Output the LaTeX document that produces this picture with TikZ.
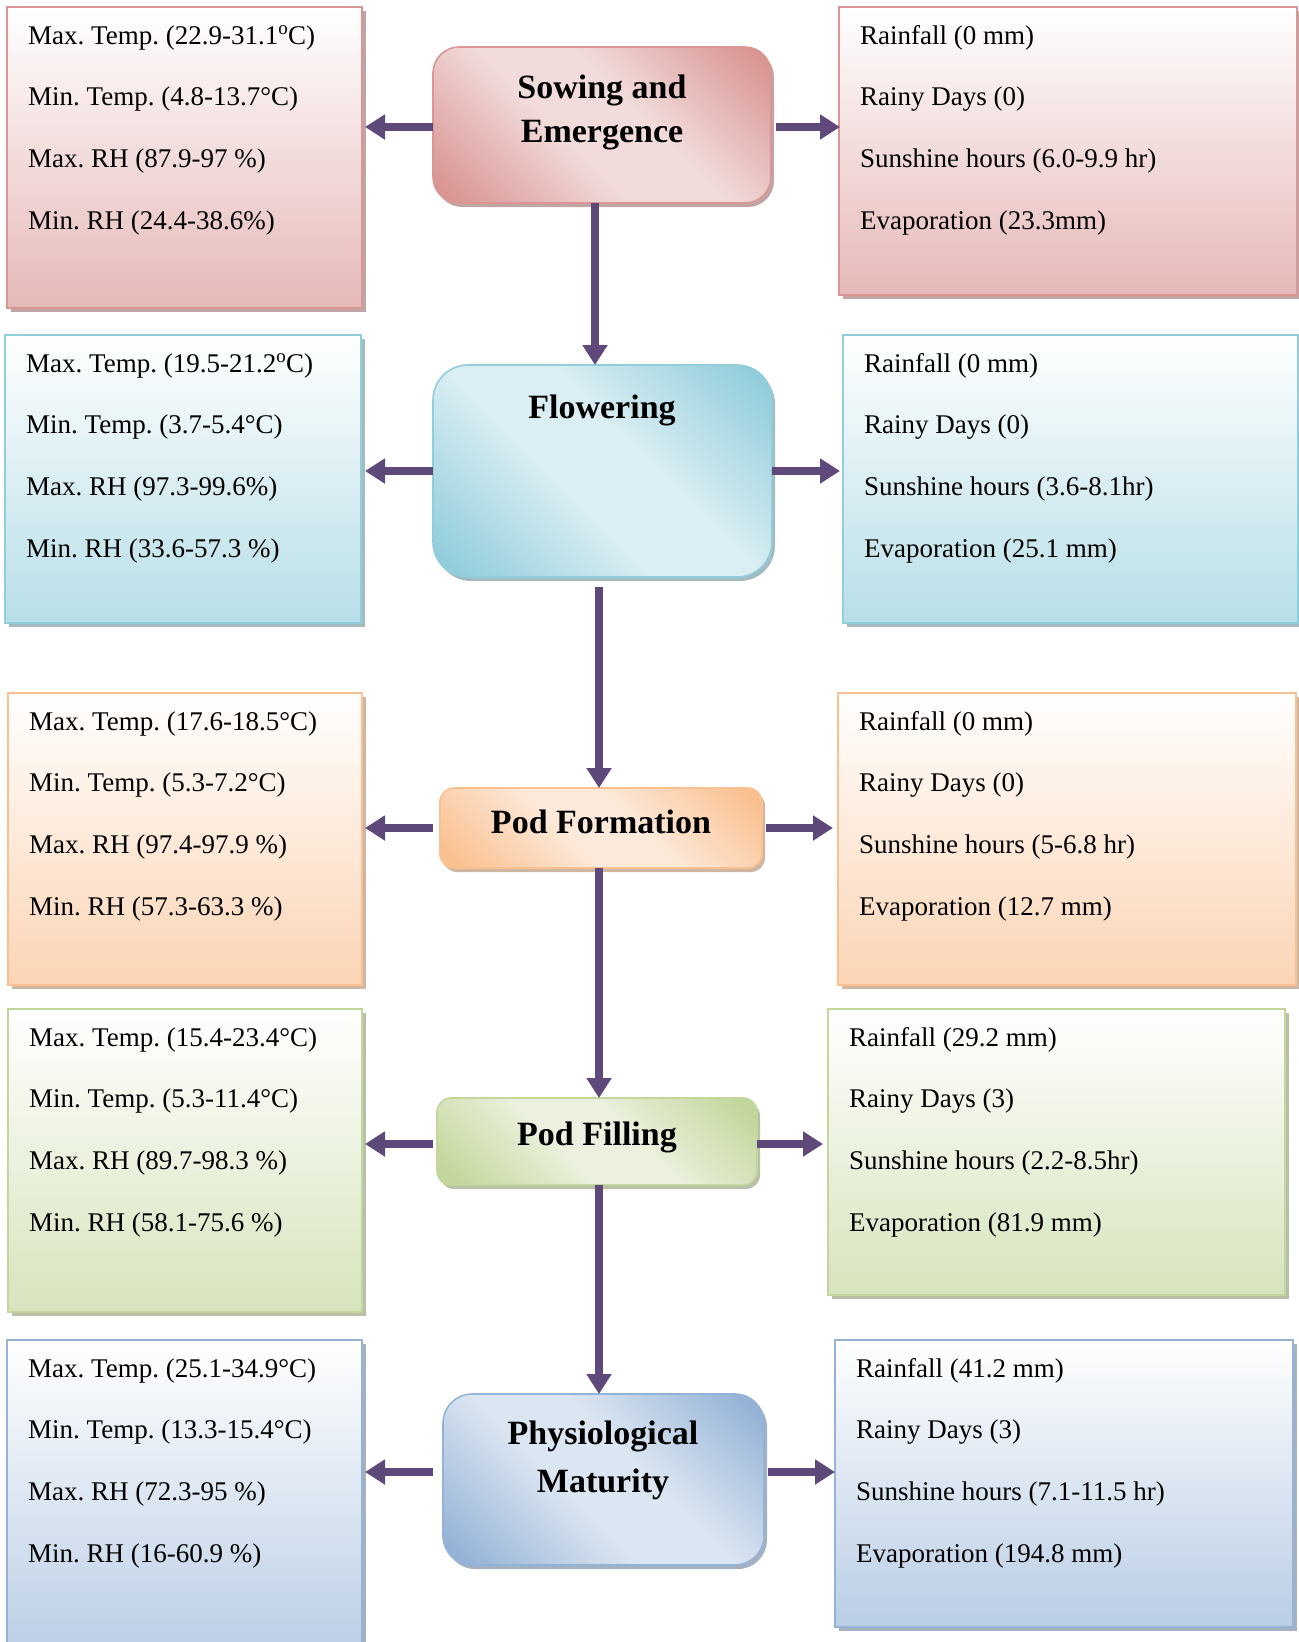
\documentclass[tikz,border=0pt]{standalone}
\usepackage{fontspec}
\setmainfont{Liberation Serif}
\usetikzlibrary{arrows.meta,shadows,calc}
\frenchspacing

% colour schemes: light / dark / side-box bottom
\definecolor{redL}{HTML}{F2DCDB}\definecolor{redD}{HTML}{D99694}\definecolor{redS}{HTML}{E6B9B8}
\definecolor{bluL}{HTML}{DAEEF3}\definecolor{bluD}{HTML}{92CDDC}\definecolor{bluS}{HTML}{B7DEE8}
\definecolor{oraL}{HTML}{FDE9D9}\definecolor{oraD}{HTML}{FAC090}\definecolor{oraS}{HTML}{FBD4B4}
\definecolor{grnL}{HTML}{EBF1DE}\definecolor{grnD}{HTML}{C3D69B}\definecolor{grnS}{HTML}{D7E4BD}
\definecolor{stlL}{HTML}{DCE6F2}\definecolor{stlD}{HTML}{95B3D7}\definecolor{stlS}{HTML}{B9CDE5}
\definecolor{arrowc}{HTML}{5F497A}

% diagonal shadings for the stage boxes
\newcommand{\stageshading}[3]{%
  \pgfdeclarehorizontalshading{#1}{100bp}{color(0bp)=(#2); color(18bp)=(#2); color(43bp)=(#3);
    color(57bp)=(#3); color(82bp)=(#2); color(100bp)=(#2)}}
\stageshading{shRed}{redD}{redL}
\stageshading{shBlu}{bluD}{bluL}
\stageshading{shOra}{oraD}{oraL}
\stageshading{shGrn}{grnD}{grnL}
\stageshading{shStl}{stlD}{stlL}

\tikzset{
  boxbase/.style={rectangle, anchor=north west, inner sep=0pt, outer sep=0pt},
  sidebox/.style 2 args={boxbase, line width=2pt, draw=#1, top color=white, bottom color=#2,
    drop shadow={shadow xshift=4pt, shadow yshift=-4pt, fill=#1!70!black, opacity=0.6}},
  stagebox/.style 2 args={boxbase, line width=1.6pt, draw=#1, shade, shading=#2, shading angle=45,
    drop shadow={shadow xshift=3pt, shadow yshift=-4pt, fill=#1!70!black, opacity=0.6}},
  txt/.style={anchor=base west, inner sep=0pt, font=\fontsize{27}{32}\selectfont},
  ctr/.style={anchor=base, inner sep=0pt, font=\fontsize{34}{40}\selectfont\bfseries},
  arr/.style={draw=arrowc, line width=8pt, -{Triangle[length=20pt,width=24pt]}},
}

% a weather box with its four lines of text
\newcommand{\weatherbox}[6]{%
  \node[#2] (#1) {};
  \node[txt] (#1-1) at ([xshift=21pt,yshift=-37pt]#1.north west) {#3};
  \node[txt] (#1-2) at ([xshift=21pt,yshift=-98.8pt]#1.north west) {#4};
  \node[txt] (#1-3) at ([xshift=21pt,yshift=-160.6pt]#1.north west) {#5};
  \node[txt] (#1-4) at ([xshift=21pt,yshift=-222.4pt]#1.north west) {#6};
}

\begin{document}
\begin{tikzpicture}[x=1pt,y=-1pt]
\useasboundingbox (0,0) rectangle (1299,1642);

% ---------- stage boxes ----------
\node[stagebox={redD}{shRed}, at={(433,47)},   minimum width=338pt, minimum height=156pt, rounded corners=26pt] (C1) {};
\node[stagebox={bluD}{shBlu}, at={(433,365)},  minimum width=339pt, minimum height=212pt, rounded corners=35pt] (C2) {};
\node[stagebox={oraD}{shOra}, at={(440,788)},  minimum width=322pt, minimum height=80pt,  rounded corners=14pt] (C3) {};
\node[stagebox={grnD}{shGrn}, at={(437,1098)}, minimum width=320pt, minimum height=87pt,  rounded corners=14pt] (C4) {};
\node[stagebox={stlD}{shStl}, at={(443,1394)}, minimum width=321pt, minimum height=171pt, rounded corners=29pt] (C5) {};

\node[ctr] (C1a) at (602,98)   {Sowing and};
\node[ctr] (C1b) at (602,142)  {Emergence};
\node[ctr] (C2a) at (602,418)  {Flowering};
\node[ctr] (C3a) at (601,833)  {Pod Formation};
\node[ctr] (C4a) at (597,1145) {Pod Filling};
\node[ctr] (C5a) at (603,1444) {Physiological};
\node[ctr] (C5b) at (603,1492) {Maturity};

% ---------- temperature / humidity boxes ----------
\weatherbox{L1}{sidebox={redD}{redS}, at={(7,7)}, minimum width=355pt, minimum height=301pt}
  {Max. Temp. (22.9-31.1\textsuperscript{o}C)}{Min. Temp. (4.8-13.7°C)}{Max. RH (87.9-97 \%)}{Min. RH (24.4-38.6\%)}
\weatherbox{L2}{sidebox={bluD}{bluS}, at={(5,335)}, minimum width=356pt, minimum height=288pt}
  {Max. Temp. (19.5-21.2\textsuperscript{o}C)}{Min. Temp. (3.7-5.4°C)}{Max. RH (97.3-99.6\%)}{Min. RH (33.6-57.3 \%)}
\weatherbox{L3}{sidebox={oraD}{oraS}, at={(8,693)}, minimum width=354pt, minimum height=292pt}
  {Max. Temp. (17.6-18.5°C)}{Min. Temp. (5.3-7.2°C)}{Max. RH (97.4-97.9 \%)}{Min. RH (57.3-63.3 \%)}
\weatherbox{L4}{sidebox={grnD}{grnS}, at={(8,1009)}, minimum width=354pt, minimum height=303pt}
  {Max. Temp. (15.4-23.4°C)}{Min. Temp. (5.3-11.4°C)}{Max. RH (89.7-98.3 \%)}{Min. RH (58.1-75.6 \%)}
\weatherbox{L5}{sidebox={stlD}{stlS}, at={(7,1340)}, minimum width=355pt, minimum height=320pt}
  {Max. Temp. (25.1-34.9°C)}{Min. Temp. (13.3-15.4°C)}{Max. RH (72.3-95 \%)}{Min. RH (16-60.9 \%)}

% ---------- rainfall / sunshine boxes ----------
\weatherbox{R1}{sidebox={redD}{redS}, at={(839,7)}, minimum width=458pt, minimum height=288pt}
  {Rainfall (0 mm)}{Rainy Days (0)}{Sunshine hours (6.0-9.9 hr)}{Evaporation (23.3mm)}
\weatherbox{R2}{sidebox={bluD}{bluS}, at={(843,335)}, minimum width=455pt, minimum height=288pt}
  {Rainfall (0 mm)}{Rainy Days (0)}{Sunshine hours (3.6-8.1hr)}{Evaporation (25.1 mm)}
\weatherbox{R3}{sidebox={oraD}{oraS}, at={(838,693)}, minimum width=458pt, minimum height=292pt}
  {Rainfall (0 mm)}{Rainy Days (0)}{Sunshine hours (5-6.8 hr)}{Evaporation (12.7 mm)}
\weatherbox{R4}{sidebox={grnD}{grnS}, at={(828,1009)}, minimum width=457pt, minimum height=286pt}
  {Rainfall (29.2 mm)}{Rainy Days (3)}{Sunshine hours (2.2-8.5hr)}{Evaporation (81.9 mm)}
\weatherbox{R5}{sidebox={stlD}{stlS}, at={(835,1340)}, minimum width=458pt, minimum height=287pt}
  {Rainfall (41.2 mm)}{Rainy Days (3)}{Sunshine hours (7.1-11.5 hr)}{Evaporation (194.8 mm)}

% ---------- flow between stages ----------
\draw[arr] ([xshift=-7pt]C1.south) -- ([xshift=-7.5pt]C2.north);
\draw[arr] ([xshift=-3.5pt,yshift=-10pt]C2.south) -- ([xshift=-2pt]C3.north);
\draw[arr] ([xshift=-2pt]C3.south) -- ([xshift=2pt]C4.north);
\draw[arr] ([xshift=2pt]C4.south) -- ([xshift=-4.5pt]C5.north);

% ---------- side arrows ----------
\coordinate (m1) at ([yshift=-2pt]C1.west);
\coordinate (n1) at ([yshift=-2pt]C1.east);
\draw[arr] (m1) -- ($(L1.east |- m1)+(3,0)$);
\draw[arr] ([xshift=5pt]n1) -- ($(R1.west |- n1)+(1,0)$);

\draw[arr] (C2.west) -- ($(L2.east |- C2.west)+(4,0)$);
\draw[arr] (C2.east) -- ($(R2.west |- C2.east)+(-3,0)$);

\draw[arr] ([xshift=-7pt]C3.west) -- ($(L3.east |- C3.west)+(3,0)$);
\draw[arr] ([xshift=4pt]C3.east) -- ($(R3.west |- C3.east)+(-5,0)$);

\coordinate (m4) at ([yshift=-2.5pt]C4.west);
\coordinate (n4) at ([yshift=-2.5pt]C4.east);
\draw[arr] ([xshift=-4pt]m4) -- ($(L4.east |- m4)+(3,0)$);
\draw[arr] (n4) -- ($(R4.west |- n4)+(-5,0)$);

\coordinate (m5) at ([yshift=7.5pt]C5.west);
\coordinate (n5) at ([yshift=7.5pt]C5.east);
\draw[arr] ([xshift=-10pt]m5) -- ($(L5.east |- m5)+(3,0)$);
\draw[arr] ([xshift=4pt]n5) -- (R5.west |- n5);
\end{tikzpicture}
\end{document}
